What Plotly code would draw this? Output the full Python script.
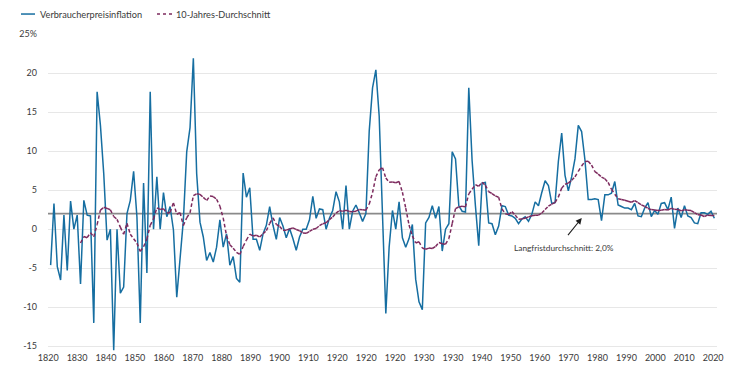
import numpy as np
import plotly.graph_objects as go

# ---------------- data ----------------
years = list(range(1820, 2021))

inflation = [
    -4.6, 3.3, -4.8, -6.5, 1.8, -5.3, 3.6, 0.0, 1.8, -7.0,      # 1820s
    3.7, 1.8, 1.7, -12.0, 17.6, 13.3, 7.1, -1.4, 0.0, -15.5,    # 1830s
    0.0, -8.2, -7.4, 2.0, 3.7, 7.4, 1.6, -12.0, 5.9, -5.6,      # 1840s
    17.6, 0.0, 6.7, 0.0, 4.7, 1.6, 2.9, -0.1, -8.7, -3.5,       # 1850s
    1.2, 9.9, 13.0, 21.9, 7.1, 0.9, -1.0, -4.0, -3.0, -4.2,     # 1860s
    -2.3, 1.2, -2.3, -0.6, -4.6, -3.5, -6.3, -6.8, 7.2, 4.1,    # 1870s
    5.3, -1.3, -1.3, -2.7, -0.6, 0.5, 2.9, 0.5, -1.3, 1.5,      # 1880s
    0.4, -1.1, 0.1, -1.2, -2.7, -1.0, 0.0, 0.0, 1.2, 4.2,       # 1890s
    1.4, 2.6, 2.5, 0.0, 1.4, 2.4, 4.8, 3.5, 0.0, 5.6,           # 1900s
    0.0, 2.3, 3.1, 2.1, 1.0, 2.0, 12.6, 18.1, 20.4, 14.5,       # 1910s
    2.6, -10.8, -2.3, 2.4, 0.0, 3.5, -1.1, -2.3, -1.2, 0.6,     # 1920s
    -6.4, -9.3, -10.3, 0.8, 1.5, 3.0, 1.4, 2.9, -2.8, 0.0,      # 1930s
    0.7, 9.9, 9.0, 3.0, 2.3, 2.2, 18.1, 8.8, 3.0, -2.1,         # 1940s
    5.9, 6.0, 0.8, 0.7, -0.7, 0.4, 3.0, 2.9, 1.8, 1.7,          # 1950s
    1.4, 0.7, 1.3, 1.6, 1.0, 1.9, 3.5, 3.0, 4.7, 6.2,           # 1960s
    5.6, 3.3, 3.4, 8.7, 12.3, 6.9, 4.9, 6.7, 9.0, 13.3,         # 1970s
    12.5, 8.9, 3.8, 3.8, 3.9, 3.8, 1.1, 4.4, 4.4, 4.6,          # 1980s
    6.1, 3.1, 2.9, 2.7, 2.7, 2.5, 3.3, 1.7, 1.6, 2.7,           # 1990s
    3.4, 1.6, 2.4, 1.9, 3.3, 3.4, 2.5, 4.1, 0.1, 2.7,           # 2000s
    1.5, 3.0, 1.7, 1.5, 0.8, 0.7, 2.1, 2.1, 1.9, 2.3,           # 2010s
    1.4,                                                        # 2020
]

ten_year_avg = [None] * 9 + [
    -1.77,                                                      # 1829
    -0.94, -1.09, -0.44, -0.99, 0.59, 2.45, 2.80, 2.66, 2.48, 1.63,
    1.26, 0.26, -0.65, 0.75, -0.64, -1.23, -1.78, -2.84, -2.25, -1.26,
    0.50, 1.32, 2.73, 2.53, 2.63, 2.05, 2.18, 3.37, 1.91, 2.12,
    0.48, 1.47, 2.10, 4.29, 4.53, 4.46, 4.07, 3.68, 4.25, 4.18,
    3.83, 2.96, 1.43, -0.82, -1.99, -2.43, -2.96, -3.24, -2.22, -1.39,
    -0.63, -0.88, -0.78, -0.99, -0.59, -0.19, 0.73, 1.46, 0.61, 0.35,
    -0.14, -0.12, 0.02, 0.17, -0.04, -0.19, -0.48, -0.53, -0.28, -0.01,
    0.09, 0.46, 0.70, 0.82, 1.23, 1.57, 2.05, 2.40, 2.28, 2.42,
    2.28, 2.25, 2.31, 2.52, 2.48, 2.44, 3.22, 4.68, 6.72, 7.61,
    7.87, 6.56, 6.02, 6.05, 5.95, 6.10, 4.73, 2.69, 0.53, -0.86,
    -1.76, -1.61, -2.41, -2.57, -2.42, -2.47, -2.22, -1.70, -1.86, -1.92,
    -1.21, 0.71, 2.64, 2.86, 2.94, 2.86, 4.53, 5.12, 5.70, 5.49,
    6.01, 5.62, 4.80, 4.57, 4.27, 4.09, 2.58, 1.99, 1.87, 2.25,
    1.80, 1.27, 1.32, 1.41, 1.58, 1.73, 1.78, 1.79, 2.08, 2.53,
    2.95, 3.21, 3.42, 4.13, 5.26, 5.76, 5.90, 6.27, 6.70, 7.41,
    8.10, 8.66, 8.70, 8.21, 7.37, 7.06, 6.68, 6.45, 5.99, 5.12,
    4.48, 3.90, 3.81, 3.70, 3.58, 3.45, 3.67, 3.40, 3.12, 2.93,
    2.66, 2.51, 2.46, 2.38, 2.44, 2.53, 2.45, 2.69, 2.54, 2.54,
    2.35, 2.49, 2.42, 2.38, 2.13, 1.86, 1.82, 1.62, 1.80, 1.76,
    1.75,                                                       # 2020
]

long_run_avg = 2.0

x_tick_labels = ["1820", "1830", "1840", "1850", "1860", "1870", "1880", "1890",
                 "1900", "1910", "1920", "1920", "1920", "1930", "1930", "1940",
                 "1950", "1960", "1970", "1980", "1990", "2000", "2010", "2020"]
y_tick_values = [-15, -10, -5, 0, 5, 10, 15, 20, 25]
y_tick_labels = ["-15", "-10", "-5", "0", "5", "10", "15", "20", "25%"]

series_names = ["Verbraucherpreisinflation", "10-Jahres-Durchschnitt"]
annotation_text = "Langfristdurchschnitt: 2,0%"

# ---------------- style ----------------
BLUE = "#166ea1"
PURPLE = "#7d2a5e"
GREY_LINE = "#8a8a8a"
GRID = "#e7e7e7"
TEXT = "#3a3a3a"
FONT = "Lato"

W, H = 749, 370
PAGE_OFFSET = 8          # default body margin of the html page
PW, PH = 669, 317.5
ML = 48 - PAGE_OFFSET
MT = 34 - PAGE_OFFSET
MR = W - ML - PW
MB = H - MT - PH

x_range = [1819.2, 2020.8]
y_range = [-15.6, 25]

def px_to_paper_x(px):
    return (px - PAGE_OFFSET - ML) / PW

def py_to_paper_y(py):
    return (H - MB - (py - PAGE_OFFSET)) / PH

# dashed average drawn segment by segment (dash restarts per segment)
seg_x, seg_y = [], []
for i in range(len(years) - 1):
    a, b = ten_year_avg[i], ten_year_avg[i + 1]
    if a is None or b is None:
        continue
    seg_x += [years[i], years[i + 1], None]
    seg_y += [a, b, None]

fig = go.Figure()

fig.add_trace(go.Scatter(
    x=years, y=inflation, mode="lines", name=series_names[0],
    line=dict(color=BLUE, width=1.5), hoverinfo="skip",
))
fig.add_trace(go.Scatter(
    x=seg_x, y=seg_y, mode="lines", name=series_names[1], connectgaps=False,
    line=dict(color=PURPLE, width=1.5, dash="3.5px,2.5px"), hoverinfo="skip",
))

# long-run average line
fig.add_shape(type="line", xref="paper", yref="y", x0=0, x1=1,
              y0=long_run_avg, y1=long_run_avg,
              line=dict(color=GREY_LINE, width=1.6), layer="between")

# arrow (head just below the long-run line) and its label
fig.add_annotation(
    x=1980.05, y=1.43, xref="x", yref="y",
    text="", showarrow=True,
    ax=-15, ay=18.5, axref="pixel", ayref="pixel",
    arrowhead=2, arrowsize=1.1, arrowwidth=1.1, arrowcolor="#1e1e1e",
)
fig.add_annotation(
    x=1974.7, y=-2.37, xref="x", yref="y",
    text=annotation_text, showarrow=False,
    xanchor="center", yanchor="middle",
    font=dict(family=FONT, size=8.3, color=TEXT),
)

# manual legend
legend_y = py_to_paper_y(14)
fig.add_shape(type="line", xref="paper", yref="paper",
              x0=px_to_paper_x(21), x1=px_to_paper_x(35), y0=legend_y, y1=legend_y,
              line=dict(color=BLUE, width=1.5))
fig.add_annotation(x=px_to_paper_x(38), y=legend_y, xref="paper", yref="paper",
                   text=series_names[0], showarrow=False, xanchor="left", yanchor="middle",
                   font=dict(family=FONT, size=9.2, color=TEXT))
fig.add_shape(type="line", xref="paper", yref="paper",
              x0=px_to_paper_x(157), x1=px_to_paper_x(172), y0=legend_y, y1=legend_y,
              line=dict(color=PURPLE, width=1.5, dash="3px,3px"))
fig.add_annotation(x=px_to_paper_x(174), y=legend_y, xref="paper", yref="paper",
                   text=series_names[1], showarrow=False, xanchor="left", yanchor="middle",
                   font=dict(family=FONT, size=9.2, color=TEXT))

fig.update_layout(
    template="none",
    width=W, height=H,
    margin=dict(l=ML, r=MR, t=MT, b=MB, pad=0, autoexpand=False),
    paper_bgcolor="white", plot_bgcolor="white",
    showlegend=False,
    font=dict(family=FONT, size=9, color=TEXT),
    xaxis=dict(
        range=x_range,
        tickmode="array",
        tickvals=list(np.linspace(1819.25, 2019.64, len(x_tick_labels))),
        ticktext=x_tick_labels,
        showgrid=False, zeroline=False, showline=False, ticks="",
        automargin=False,
        tickfont=dict(family=FONT, size=9, color=TEXT),
    ),
    yaxis=dict(
        range=y_range,
        tickmode="array",
        tickvals=y_tick_values,
        ticktext=y_tick_labels,
        showgrid=True, gridcolor=GRID, gridwidth=1,
        zeroline=False, showline=False, ticks="",
        automargin=False,
        ticklabelstandoff=10,
        tickfont=dict(family=FONT, size=9, color=TEXT),
    ),
)

fig.write_html("out.html")
